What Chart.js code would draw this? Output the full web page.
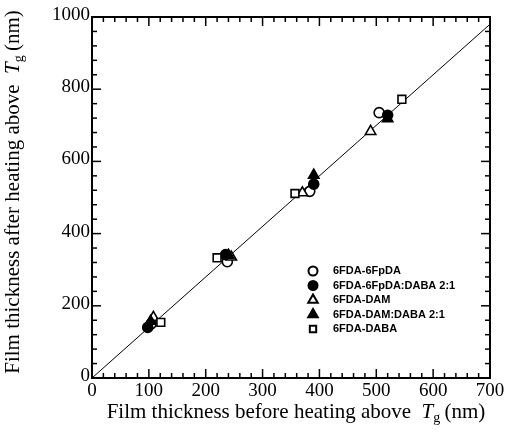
<!DOCTYPE html>
<html>
<head>
<meta charset="utf-8">
<script src="https://cdn.jsdelivr.net/npm/chart.js@4"></script>
<style>
  html, body { margin: 0; padding: 0; background: #fff; }
  #wrap { width: 507px; height: 433px; }
</style>
</head>
<body>
<div id="wrap"><canvas id="thicknessChart"></canvas></div>
<script>
// series names
const seriesNames = ['6FDA-6FpDA', '6FDA-6FpDA:DABA 2:1', '6FDA-DAM', '6FDA-DAM:DABA 2:1', '6FDA-DABA'];

// thickness before / after heating above Tg (nm)
const before6FpDA = [104, 238, 383, 505];
const after6FpDA = [150, 322, 517, 735];
const before6FpDADABA = [98, 235, 390, 520];
const after6FpDADABA = [140, 342, 537, 728];
const beforeDAM = [108, 245, 370, 490];
const afterDAM = [168, 335, 513, 683];
const beforeDAMDABA = [103, 240, 390, 520];
const afterDAMDABA = [157, 340, 562, 718];
const beforeDABA = [121, 220, 357, 545];
const afterDABA = [154, 333, 511, 772];

// fitted line through origin
const fitSlope = 1.4;

// axis ticks
const xTickLabels = [0, 100, 200, 300, 400, 500, 600, 700];
const yTickLabels = [0, 200, 400, 600, 800, 1000];

const pts = (xs, ys) => xs.map((v, i) => ({ x: v, y: ys[i] }));

const markerStyles = [
    { pointStyle: 'circle', fill: '#fff', radius: 5 },
    { pointStyle: 'circle', fill: '#000', radius: 5 },
    { pointStyle: 'triangle', fill: '#fff', radius: 6 },
    { pointStyle: 'triangle', fill: '#000', radius: 6 },
    { pointStyle: 'rect', fill: '#fff', radius: 5.5 }
];
const seriesData = [
    pts(before6FpDA, after6FpDA),
    pts(before6FpDADABA, after6FpDADABA),
    pts(beforeDAM, afterDAM),
    pts(beforeDAMDABA, afterDAMDABA),
    pts(beforeDABA, afterDABA)
];

const xMax = xTickLabels[xTickLabels.length - 1];
const yMax = yTickLabels[yTickLabels.length - 1];

const datasets = seriesNames.map((name, i) => ({
    label: name,
    data: seriesData[i],
    pointStyle: markerStyles[i].pointStyle,
    pointRadius: markerStyles[i].radius,
    pointBackgroundColor: markerStyles[i].fill,
    pointBorderColor: '#000',
    pointBorderWidth: 1.6,
    showLine: false,
    order: 5 - i
}));
datasets.push({
    label: 'fit',
    data: [{ x: 0, y: 0 }, { x: xMax, y: fitSlope * xMax }],
    showLine: true,
    borderColor: '#000',
    borderWidth: 1,
    pointRadius: 0,
    order: 10
});

function line(ctx, x1, y1, x2, y2) {
    ctx.beginPath();
    ctx.moveTo(x1, y1);
    ctx.lineTo(x2, y2);
    ctx.stroke();
}

// title pieces: italic T with subscript g
function titleParts(text) {
    return [
        { t: text + '  ', f: '21px "Liberation Serif"', dy: 0 },
        { t: 'T', f: 'italic 21px "Liberation Serif"', dy: 0 },
        { t: 'g', f: '14px "Liberation Serif"', dy: 4 },
        { t: '\u2009(nm)', f: '21px "Liberation Serif"', dy: 0 }
    ];
}
function drawRich(ctx, parts, cx, cy) {
    let w = 0;
    parts.forEach(p => { ctx.font = p.f; w += ctx.measureText(p.t).width; });
    let x = cx - w / 2;
    ctx.textAlign = 'left';
    ctx.textBaseline = 'alphabetic';
    parts.forEach(p => {
        ctx.font = p.f;
        ctx.fillText(p.t, x, cy + p.dy);
        x += ctx.measureText(p.t).width;
    });
}

const framePlugin = {
    id: 'frame',
    afterDraw(chart) {
        const { ctx, chartArea: a, scales: { x, y } } = chart;
        ctx.save();
        ctx.strokeStyle = '#000';
        ctx.fillStyle = '#000';
        ctx.lineWidth = 2;
        ctx.strokeRect(a.left, a.top, a.width, a.height);

        // inward ticks on all four sides
        ctx.lineWidth = 1.5;
        for (let v = 0; v <= xMax; v += 20) {
            const px = x.getPixelForValue(v);
            const len = v % 100 === 0 ? 9 : 5;
            line(ctx, px, a.bottom, px, a.bottom - len);
            line(ctx, px, a.top, px, a.top + len);
        }
        for (let v = 0; v <= yMax; v += 40) {
            const py = y.getPixelForValue(v);
            const len = v % 200 === 0 ? 9 : 5;
            line(ctx, a.left, py, a.left + len, py);
            line(ctx, a.right, py, a.right - len, py);
        }

        // tick labels
        ctx.font = '19px "Liberation Serif"';
        ctx.textAlign = 'center';
        ctx.textBaseline = 'top';
        xTickLabels.forEach(v => ctx.fillText(String(v), x.getPixelForValue(v), a.bottom + 4));
        ctx.textAlign = 'right';
        ctx.textBaseline = 'middle';
        yTickLabels.forEach(v => ctx.fillText(String(v), a.left - 2, y.getPixelForValue(v) - 2));

        // axis titles
        drawRich(ctx, titleParts('Film thickness before heating above'), 296, 418);
        ctx.save();
        ctx.translate(19, 192);
        ctx.rotate(-Math.PI / 2);
        drawRich(ctx, titleParts('Film thickness after heating above'), 0, 0);
        ctx.restore();

        // legend
        const lx = 313, ly = 271, step = 14.5;
        seriesNames.forEach((name, i) => {
            const yy = ly + i * step;
            ctx.fillStyle = markerStyles[i].fill;
            ctx.strokeStyle = '#000';
            ctx.lineWidth = 2;
            Chart.helpers.drawPoint(ctx, {
                pointStyle: markerStyles[i].pointStyle,
                radius: markerStyles[i].pointStyle === 'triangle' ? 5.5 : 4.5,
                rotation: 0,
                borderWidth: 2
            }, lx, yy);
            ctx.fillStyle = '#000';
            ctx.font = 'bold 11px "Liberation Sans"';
            ctx.textAlign = 'left';
            ctx.textBaseline = 'middle';
            ctx.fillText(name, lx + 20, yy);
        });
        ctx.restore();
    }
};

new Chart(document.getElementById('thicknessChart'), {
    type: 'scatter',
    data: { datasets: datasets },
    options: {
        responsive: true,
        maintainAspectRatio: false,
        animation: false,
        layout: { padding: { left: 92, top: 17, right: 17, bottom: 55 } },
        plugins: {
            legend: { display: false },
            tooltip: { enabled: false }
        },
        scales: {
            x: {
                type: 'linear', min: 0, max: xMax,
                display: false
            },
            y: {
                type: 'linear', min: 0, max: yMax,
                display: false
            }
        }
    },
    plugins: [framePlugin]
});
</script>
</body>
</html>
